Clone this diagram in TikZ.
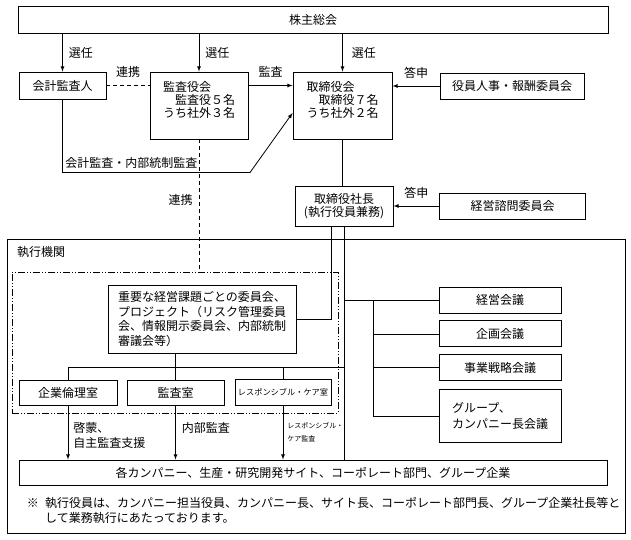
\documentclass[tikz,border=0pt]{standalone}
\usepackage{fontspec}
\setmainfont{Noto Sans CJK JP}
\usetikzlibrary{positioning}

\begin{document}
\begin{tikzpicture}[x=1pt, y=-1pt,
    font=\fontsize{12}{13}\selectfont,
    box/.style={draw, line width=0.9pt, inner sep=0pt, align=center},
    tag/.style={inner sep=0pt},
    conn/.style={line width=0.8pt},
    linkdash/.style={line width=0.8pt, dash pattern=on 4pt off 3pt},
    dashdotdot/.style={draw, line width=0.8pt,
        dash pattern=on 7pt off 2pt on 1pt off 2pt on 1pt off 2pt},
    >=latex]
    \useasboundingbox (0,0) rectangle (631,539);

    % Add the boxes of the board side
    \node[box, minimum width=590, minimum height=27] (soukai) at (313,19.5) {株主総会};
    \node[box, minimum width=87, minimum height=27] (kaikei) at (62.5,85.5) {会計監査人};
    \node[box,
          align=left,
          minimum width=98,
          minimum height=67] (kansayakukai) at (199,105.5)
          {監査役会\\\hspace*{1em}監査役５名\\うち社外３名\\\mbox{}};
    \node[box,
          align=left,
          minimum width=99,
          minimum height=67] (torishimariyakukai) at (342.5,105.5)
          {取締役会\\\hspace*{1em}取締役７名\\うち社外２名\\\mbox{}};
    \node[box, minimum width=144, minimum height=26] (houshu) at (512,86) {役員人事・報酬委員会};
    \node[box, minimum width=98, minimum height=40] (shachou) at (344,206)
          {取締役社長\\(執行役員兼務)};
    \node[box, minimum width=146, minimum height=26] (shimon) at (512.5,206) {経営諮問委員会};

    % Add the execution side
    \node[box, minimum width=618, minimum height=294] (shikkou) at (316,386) {};
    \node[tag, anchor=west] (shikkoulbl) at (17,252) {執行機関};
    \node[dashdotdot, minimum width=326, minimum height=141] (bumon) at (175,342.5) {};
    \node[box,
          align=left,
          font=\fontsize{12}{14.4}\selectfont,
          minimum width=188,
          minimum height=68] (juuyou) at (202,319)
          {重要な経営課題ごとの委員会、\\プロジェクト（リスク管理委員\\会、情報開示委員会、内部統制\\審議会等）};
    \node[box, minimum width=98, minimum height=25] (rinri) at (68,392.5) {企業倫理室};
    \node[box, minimum width=97, minimum height=25] (kansashitsu) at (175.5,392.5) {監査室};
    \node[box,
          font=\fontsize{8.2}{10}\selectfont,
          minimum width=96,
          minimum height=26] (rc) at (283,392.5) {レスポンシブル・ケア室};
    \node[box, minimum width=122, minimum height=26] (keiei) at (500,300) {経営会議};
    \node[box, minimum width=122, minimum height=26, below=7pt of keiei] (kikaku) {企画会議};
    \node[box, minimum width=122, minimum height=26, below=7pt of kikaku] (senryaku) {事業戦略会議};
    \node[box,
          align=left,
          font=\fontsize{12}{16}\selectfont,
          minimum width=122,
          minimum height=53,
          below=8pt of senryaku] (group) {グループ、\\カンパニー長会議};
    \node[box, minimum width=588, minimum height=25] (company) at (313,472.5)
          {各カンパニー、生産・研究開発サイト、コーポレート部門、グループ企業};

    % Footnote
    \node[tag] (kome) at (33,503) {※};
    \node[tag,
          anchor=north west,
          align=left,
          font=\fontsize{12}{15}\selectfont] (note) at (45,497)
          {執行役員は、カンパニー担当役員、カンパニー長、サイト長、コーポレート部門長、グループ企業社長等と\\して業務執行にあたっております。};

    % Connect the board side
    \path[->, conn]
        (soukai.south -| kaikei.north) edge node[tag, right=6pt] {選任} (kaikei.north)
        (soukai.south -| kansayakukai.north) edge node[tag, right=6pt] {選任} (kansayakukai.north)
        (soukai.south -| torishimariyakukai.north) edge node[tag, right=9pt] {選任} (torishimariyakukai.north)
        (kaikei.east -| kansayakukai.east) edge node[tag, above=8pt] {監査} (kaikei.east -| torishimariyakukai.west)
        (houshu.west) edge node[tag, above=7pt] {答申} (houshu.west -| torishimariyakukai.east)
        (shimon.west) edge node[tag, above=7pt] {答申} (shimon.west -| shachou.east);
    \draw[linkdash] (kaikei.east) -- node[tag, above=8pt] {連携} (kaikei.east -| kansayakukai.west);
    \draw[linkdash] (kansayakukai.south) -- node[tag, pos=0.46, left=6pt] {連携} (kansayakukai.south |- bumon.north);
    \coordinate (auditbend) at (250,172.5);
    \draw[->, conn] (kaikei.south) |- node[tag, pos=0.5, anchor=south west, xshift=2.5pt, yshift=4pt]
        {会計監査・内部統制監査} (auditbend) -- ([yshift=-7.5pt]torishimariyakukai.west);
    \draw[conn] (torishimariyakukai.south) -- (torishimariyakukai.south |- shachou.north);

    % Connect the president to the execution side
    \draw[conn] ([xshift=-13pt]shachou.south) |- (juuyou.east);
    \draw[conn] (shachou.south) -- (shachou.south |- company.north);
    \draw[conn] (shachou.south |- keiei.west) -- (keiei.west);
    \coordinate (rtrunk) at (373,300);
    \draw[conn] (rtrunk) |- (group.west);
    \draw[conn] (rtrunk |- kikaku.west) -- (kikaku.west);
    \draw[conn] (rtrunk |- senryaku.west) -- (senryaku.west);
    \coordinate (ltrunk) at (344,367);
    \draw[conn] (ltrunk) -| (rinri.north);
    \draw[conn] (ltrunk -| rc.north) -- (rc.north);
    \draw[conn] (juuyou.south -| kansashitsu.north) -- (kansashitsu.north);
    \path[->, conn]
        (rinri.south) edge node[tag, pos=0.55, right=5pt, align=left, font=\fontsize{12}{15}\selectfont]
            {啓蒙、\\自主監査支援} (rinri.south |- company.north)
        (kansashitsu.south) edge node[tag, pos=0.42, right=6pt] {内部監査} (kansashitsu.south |- company.north)
        (rc.south) edge node[tag, pos=0.49, right=4pt, align=left, font=\fontsize{7}{13}\selectfont]
            {レスポンシブル・\\ケア監査} (rc.south |- company.north);
\end{tikzpicture}
\end{document}
